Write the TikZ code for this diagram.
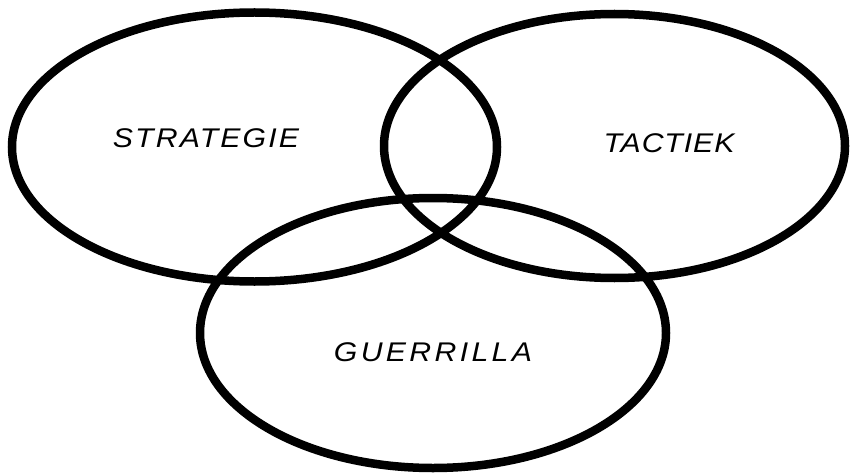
\documentclass[tikz,border=0pt]{standalone}
\usepackage{fontspec}
\setmainfont{Liberation Sans}
\begin{document}
\begin{tikzpicture}[x=1pt,y=-1pt,
  ring/.style={draw=black,line width=8.5pt},
  lbl/.style={inner sep=0pt,font=\fontsize{27}{30}\selectfont\itshape}]
\useasboundingbox (0,0) rectangle (851,476);
\draw[ring] (254.5,147) ellipse [x radius=242.5, y radius=134.5];
\draw[ring] (614.5,146) ellipse [x radius=230.5, y radius=132];
\draw[ring] (433,333) ellipse [x radius=233, y radius=135];
\node[lbl] (s) at (206,138) {\scalebox{1.12}[1]{\addfontfeatures{LetterSpace=7}STRATEGIE}};
\node[lbl] (t) at (669,143) {\scalebox{1.12}[1]{\addfontfeatures{LetterSpace=3}TACTIEK}};
\node[lbl] (g) at (433,352) {\scalebox{1.12}[1]{\addfontfeatures{LetterSpace=11}GUERRILLA}};
\end{tikzpicture}
\end{document}
